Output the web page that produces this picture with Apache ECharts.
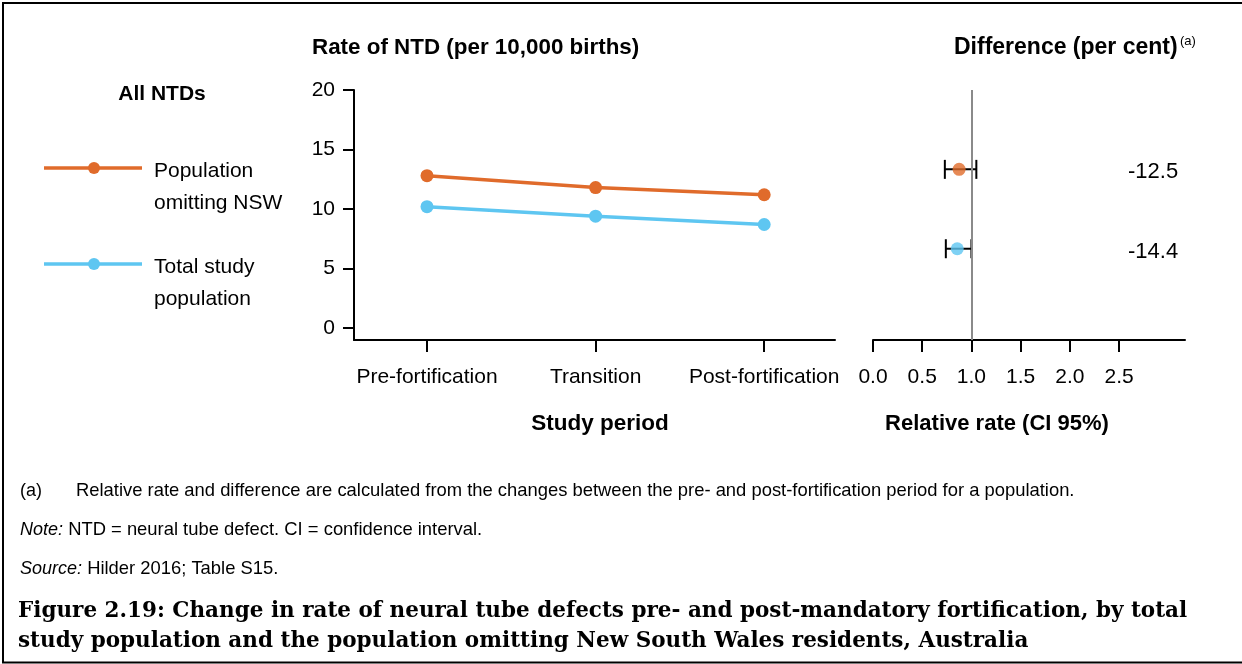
<!DOCTYPE html>
<html>
<head>
<meta charset="utf-8">
<script src="https://cdn.jsdelivr.net/npm/echarts@6/dist/echarts.min.js"></script>
<style>
  html, body { margin: 0; padding: 0; background: #fff; }
  #chart { width: 1242px; height: 664px; }
</style>
</head>
<body>
<div id="chart"></div>
<script>
// Data
const periods = ['Pre-fortification', 'Transition', 'Post-fortification']
const omitNswRate = [12.8, 11.8, 11.2]
const totalRate = [10.2, 9.4, 8.7]
const rateTicks = [0, 5, 10, 15, 20]
const rrTicks = [0, 0.5, 1, 1.5, 2, 2.5]
const populations = ['Population omitting NSW', 'Total study population']
const relRate = [0.875, 0.856]
const ciLow = [0.73, 0.74]
const ciHigh = [1.05, 1.0]
const diffPct = ['-12.5', '-14.4']
const rowPos = [2, 1]

const ORANGE = '#E06B2B'
const BLUE = '#5EC6F1'
const seriesColors = [ORANGE, BLUE]
const FONT = '"Liberation Sans", Arial, sans-serif'
const SERIF = '"DejaVu Serif", "Liberation Serif", serif'

const chart = echarts.init(document.getElementById('chart'), null, { renderer: 'canvas' })

const txt = (x, y, text, extra) => ({
  type: 'text',
  x: x,
  y: y,
  silent: true,
  style: Object.assign({
    text: text,
    fill: '#000',
    fontFamily: FONT,
    fontSize: 21,
    verticalAlign: 'middle',
    align: 'left'
  }, extra || {})
})

const legendItem = (y, color, lines) => [
  { type: 'line', silent: true, shape: { x1: 44, y1: y, x2: 142, y2: y }, style: { stroke: color, lineWidth: 3.5 } },
  { type: 'circle', silent: true, shape: { cx: 94, cy: y, r: 6 }, style: { fill: color } },
  txt(154, y + 3, lines[0]),
  txt(154, y + 35, lines[1])
]

const italicRich = { i: { fontStyle: 'italic', fontSize: 18, fontFamily: FONT, fill: '#000' } }

const option = {
  backgroundColor: '#fff',
  animation: false,
  textStyle: { fontFamily: FONT },
  grid: [
    { left: 354, top: 90, width: 481, height: 250 },
    { left: 873, top: 90, width: 312, height: 250 }
  ],
  xAxis: [
    {
      gridIndex: 0,
      type: 'value',
      min: -0.433,
      max: 2.42,
      axisLine: { show: true, onZero: false, lineStyle: { color: '#000', width: 2 } },
      axisTick: { show: true, customValues: [0, 1, 2], length: 12, lineStyle: { color: '#000', width: 2 } },
      axisLabel: {
        customValues: [0, 1, 2],
        formatter: v => periods[Math.round(v)],
        fontSize: 21,
        color: '#000',
        margin: 27
      },
      splitLine: { show: false }
    },
    {
      gridIndex: 1,
      type: 'value',
      min: 0,
      max: 3.17,
      axisLine: { show: true, onZero: false, lineStyle: { color: '#000', width: 2 } },
      axisTick: { show: true, customValues: rrTicks, length: 12, lineStyle: { color: '#000', width: 2 } },
      axisLabel: {
        customValues: rrTicks,
        formatter: v => v.toFixed(1),
        fontSize: 21,
        color: '#000',
        margin: 27
      },
      splitLine: { show: false }
    }
  ],
  yAxis: [
    {
      gridIndex: 0,
      type: 'value',
      min: -1,
      max: 20,
      axisLine: { show: true, onZero: false, lineStyle: { color: '#000', width: 2 } },
      axisTick: { show: true, customValues: rateTicks, length: 11, lineStyle: { color: '#000', width: 2 } },
      axisLabel: { customValues: rateTicks, fontSize: 21, color: '#000', margin: 19 },
      splitLine: { show: false }
    },
    {
      gridIndex: 1,
      type: 'value',
      min: -0.15,
      max: 3.0,
      show: false,
      splitLine: { show: false }
    }
  ],
  series: [
    {
      name: populations[0],
      type: 'line',
      xAxisIndex: 0,
      yAxisIndex: 0,
      data: omitNswRate.map((v, i) => [i, v]),
      symbol: 'circle',
      symbolSize: 13,
      lineStyle: { color: ORANGE, width: 3.5 },
      itemStyle: { color: ORANGE }
    },
    {
      name: populations[1],
      type: 'line',
      xAxisIndex: 0,
      yAxisIndex: 0,
      data: totalRate.map((v, i) => [i, v]),
      symbol: 'circle',
      symbolSize: 13,
      lineStyle: { color: BLUE, width: 3.5 },
      itemStyle: { color: BLUE }
    },
    {
      // confidence interval whiskers + difference labels
      type: 'custom',
      xAxisIndex: 1,
      yAxisIndex: 1,
      data: relRate.map((v, i) => [ciLow[i], ciHigh[i], rowPos[i], i]),
      renderItem: (params, api) => {
        const y = api.value(2)
        const a = api.coord([api.value(0), y])
        const b = api.coord([api.value(1), y])
        const t = api.coord([3.1, y])
        const h = 9.5
        const ls = { stroke: '#000', lineWidth: 2 }
        return {
          type: 'group',
          children: [
            { type: 'line', shape: { x1: a[0], y1: a[1], x2: b[0], y2: b[1] }, style: ls },
            { type: 'line', shape: { x1: a[0], y1: a[1] - h, x2: a[0], y2: a[1] + h }, style: ls },
            { type: 'line', shape: { x1: b[0], y1: b[1] - h, x2: b[0], y2: b[1] + h }, style: ls },
            {
              type: 'text',
              x: t[0],
              y: t[1] + 3,
              style: {
                text: diffPct[api.value(3)],
                fill: '#000',
                fontFamily: FONT,
                fontSize: 22,
                align: 'right',
                verticalAlign: 'middle'
              }
            }
          ]
        }
      },
      markLine: {
        silent: true,
        symbol: 'none',
        label: { show: false },
        lineStyle: { color: '#8a8a8a', width: 2, type: 'solid' },
        data: [{ xAxis: 1 }]
      },
      z: 3
    },
    {
      type: 'scatter',
      xAxisIndex: 1,
      yAxisIndex: 1,
      data: relRate.map((v, i) => ({ value: [v, rowPos[i]], itemStyle: { color: seriesColors[i] } })),
      symbolSize: 13,
      z: 4
    }
  ],
  graphic: [
    {
      type: 'rect',
      silent: true,
      shape: { x: 3, y: 3, width: 1252, height: 659.5 },
      style: { fill: 'none', stroke: '#000', lineWidth: 2 }
    },
    txt(312, 48, 'Rate of NTD (per 10,000 births)', { fontWeight: 'bold', fontSize: 22.4 }),
    txt(954, 48, 'Difference (per cent)', { fontWeight: 'bold', fontSize: 23 }),
    txt(1180, 41, '(a)', { fontSize: 13 }),
    txt(162, 94, 'All NTDs', { fontWeight: 'bold', fontSize: 21, align: 'center' }),
    ...legendItem(168, ORANGE, ['Population', 'omitting NSW']),
    ...legendItem(264, BLUE, ['Total study', 'population']),
    txt(600, 424, 'Study period', { fontWeight: 'bold', fontSize: 22.5, align: 'center' }),
    txt(997, 424, 'Relative rate (CI 95%)', { fontWeight: 'bold', fontSize: 22, align: 'center' }),
    txt(20, 491, '(a)', { fontSize: 18 }),
    txt(76, 491, 'Relative rate and difference are calculated from the changes between the pre- and post-fortification period for a population.', { fontSize: 18.4 }),
    txt(20, 530, '{i|Note:} NTD = neural tube defect. CI = confidence interval.', {
      fontSize: 18.4,
      rich: italicRich
    }),
    txt(20, 569, '{i|Source:} Hilder 2016; Table S15.', {
      fontSize: 18.4,
      rich: italicRich
    }),
    txt(18, 611, 'Figure 2.19: Change in rate of neural tube defects pre- and post-mandatory fortification, by total', {
      fontFamily: SERIF, fontWeight: 'bold', fontSize: 21.5
    }),
    txt(18, 641, 'study population and the population omitting New South Wales residents, Australia', {
      fontFamily: SERIF, fontWeight: 'bold', fontSize: 21.5
    })
  ]
}

chart.setOption(option)
window.addEventListener('resize', () => chart.resize())
</script>
</body>
</html>
